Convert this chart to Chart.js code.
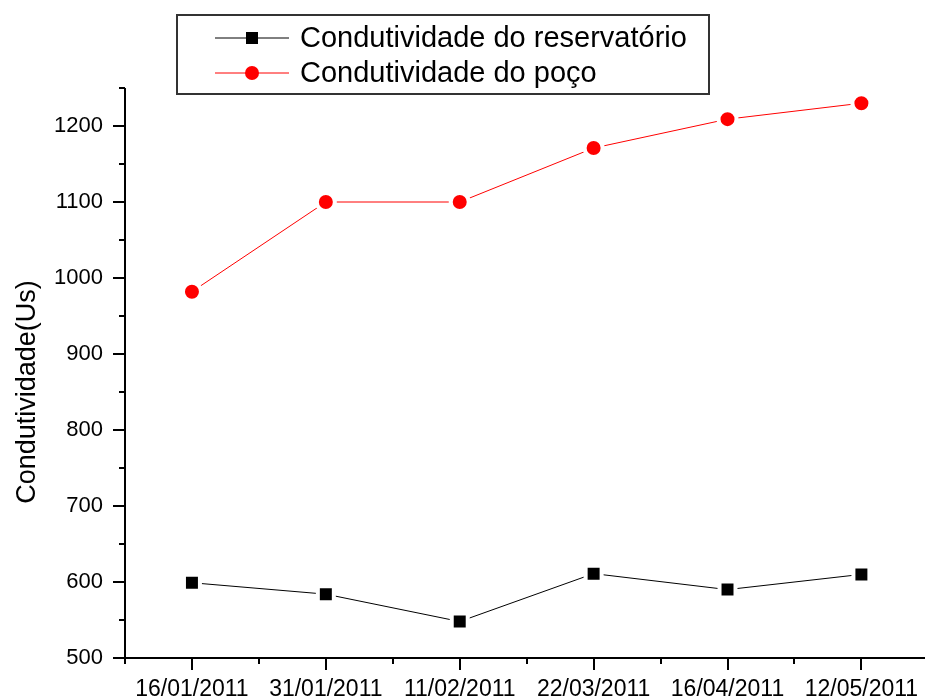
<!DOCTYPE html>
<html>
<head>
<meta charset="utf-8">
<script src="https://cdn.jsdelivr.net/npm/chart.js@4/dist/chart.umd.min.js"></script>
<style>
  html, body { margin: 0; padding: 0; overflow: hidden; background: #fff; }
  canvas { display: block; }
</style>
</head>
<body>
<canvas id="chart" width="925" height="698"></canvas>
<script>
// Sampling dates and conductivity readings
const dates = ['16/01/2011', '31/01/2011', '11/02/2011', '22/03/2011', '16/04/2011', '12/05/2011'];
const reservatorio = [599, 584, 548, 611, 590, 610];
const poco = [982, 1100, 1100, 1171, 1209, 1230];
const yMajorTicks = [500, 600, 700, 800, 900, 1000, 1100, 1200];
const seriesNames = ['Condutividade do reservatório', 'Condutividade do poço'];
const yTitle = 'Condutividade(Us)';

const FONT = '"Liberation Sans", Arial, sans-serif';

// Axis lines with outward major/minor ticks
const axesPlugin = {
  id: 'originAxes',
  beforeDatasetsDraw(chart) {
    const { ctx, scales: { x, y } } = chart;
    const x0 = x.getPixelForValue(x.min);
    const x1 = x.getPixelForValue(x.max);
    const y0 = y.getPixelForValue(y.min);
    const y1 = y.getPixelForValue(y.max);
    ctx.save();
    ctx.strokeStyle = '#000';
    ctx.lineWidth = 2;
    ctx.beginPath();
    ctx.moveTo(x0, y1); ctx.lineTo(x0, y0 + 1);
    ctx.moveTo(x0 - 1, y0); ctx.lineTo(x1, y0);
    for (let v = y.min; v <= y.max + 1e-9; v += 50) {
      const py = Math.round(y.getPixelForValue(v));
      const len = v % 100 === 0 ? 12 : 6;
      ctx.moveTo(x0, py); ctx.lineTo(x0 - len, py);
    }
    for (let v = 0.5; v <= x.max + 1e-9; v += 0.5) {
      const px = Math.round(x.getPixelForValue(v));
      const len = Number.isInteger(v) ? 12 : 6;
      ctx.moveTo(px, y0); ctx.lineTo(px, y0 + len);
    }
    ctx.stroke();
    ctx.restore();
  }
};

// Boxed legend with line + marker samples, and the rotated y title
const legendPlugin = {
  id: 'boxLegend',
  afterDraw(chart) {
    const { ctx } = chart;
    ctx.save();
    ctx.strokeStyle = '#333';
    ctx.lineWidth = 2;
    ctx.strokeRect(177, 15, 532, 79);
    const rows = [38, 73];
    chart.data.datasets.forEach((ds, i) => {
      const ry = rows[i];
      ctx.strokeStyle = ds.borderColor;
      ctx.lineWidth = 1;
      ctx.beginPath();
      ctx.moveTo(215, ry); ctx.lineTo(289, ry);
      ctx.stroke();
      ctx.fillStyle = ds.backgroundColor;
      if (ds.pointStyle === 'rect') {
        ctx.fillRect(246, ry - 6, 12, 12);
      } else {
        ctx.beginPath();
        ctx.arc(252, ry, 7, 0, Math.PI * 2);
        ctx.fill();
      }
      ctx.fillStyle = '#000';
      ctx.font = '29px ' + FONT;
      ctx.textBaseline = 'middle';
      ctx.textAlign = 'left';
      ctx.fillText(ds.label, 300, ry + 1);
    });
    ctx.translate(28, 392);
    ctx.rotate(-Math.PI / 2);
    ctx.fillStyle = '#000';
    ctx.font = '27px ' + FONT;
    ctx.textAlign = 'center';
    ctx.textBaseline = 'middle';
    ctx.fillText(yTitle, 0, 0);
    ctx.restore();
  }
};

const chart = new Chart(document.getElementById('chart'), {
  type: 'line',
  data: {
    datasets: [
      {
        label: seriesNames[0],
        data: reservatorio.map((v, i) => ({ x: i + 1, y: v })),
        borderColor: '#000000',
        backgroundColor: '#000000',
        borderWidth: 1,
        pointStyle: 'rect',
        pointRadius: 11.3,
        pointBorderWidth: 4,
        pointBorderColor: '#ffffff',
        tension: 0
      },
      {
        label: seriesNames[1],
        data: poco.map((v, i) => ({ x: i + 1, y: v })),
        borderColor: '#ff0000',
        backgroundColor: '#ff0000',
        borderWidth: 1,
        pointStyle: 'circle',
        pointRadius: 9,
        pointBorderWidth: 4,
        pointBorderColor: '#ffffff',
        tension: 0
      }
    ]
  },
  options: {
    responsive: false,
    animation: false,
    layout: { autoPadding: false, padding: { top: 88, right: 0, left: 0, bottom: 0 } },
    plugins: { legend: { display: false }, tooltip: { enabled: false } },
    scales: {
      x: {
        type: 'linear',
        min: 0.5,
        max: 6.475,
        afterBuildTicks: (s) => { s.ticks = dates.map((d, i) => ({ value: i + 1 })); },
        afterFit: (s) => { s.height = 40; s.paddingLeft = 0; s.paddingRight = 0; },
        ticks: {
          callback: (v) => dates[v - 1] || '',
          autoSkip: false,
          maxRotation: 0,
          minRotation: 0,
          padding: 18,
          color: '#000',
          font: { family: FONT, size: 23 }
        },
        grid: { display: false, drawTicks: false },
        border: { display: false }
      },
      y: {
        min: 500,
        max: 1250,
        afterBuildTicks: (s) => { s.ticks = yMajorTicks.map((v) => ({ value: v })); },
        afterFit: (s) => { s.width = 125; },
        ticks: {
          callback: (v) => String(v),
          padding: 22,
          color: '#000',
          font: { family: FONT, size: 22 }
        },
        grid: { display: false, drawTicks: false },
        border: { display: false }
      }
    }
  },
  plugins: [axesPlugin, legendPlugin]
});
</script>
</body>
</html>
